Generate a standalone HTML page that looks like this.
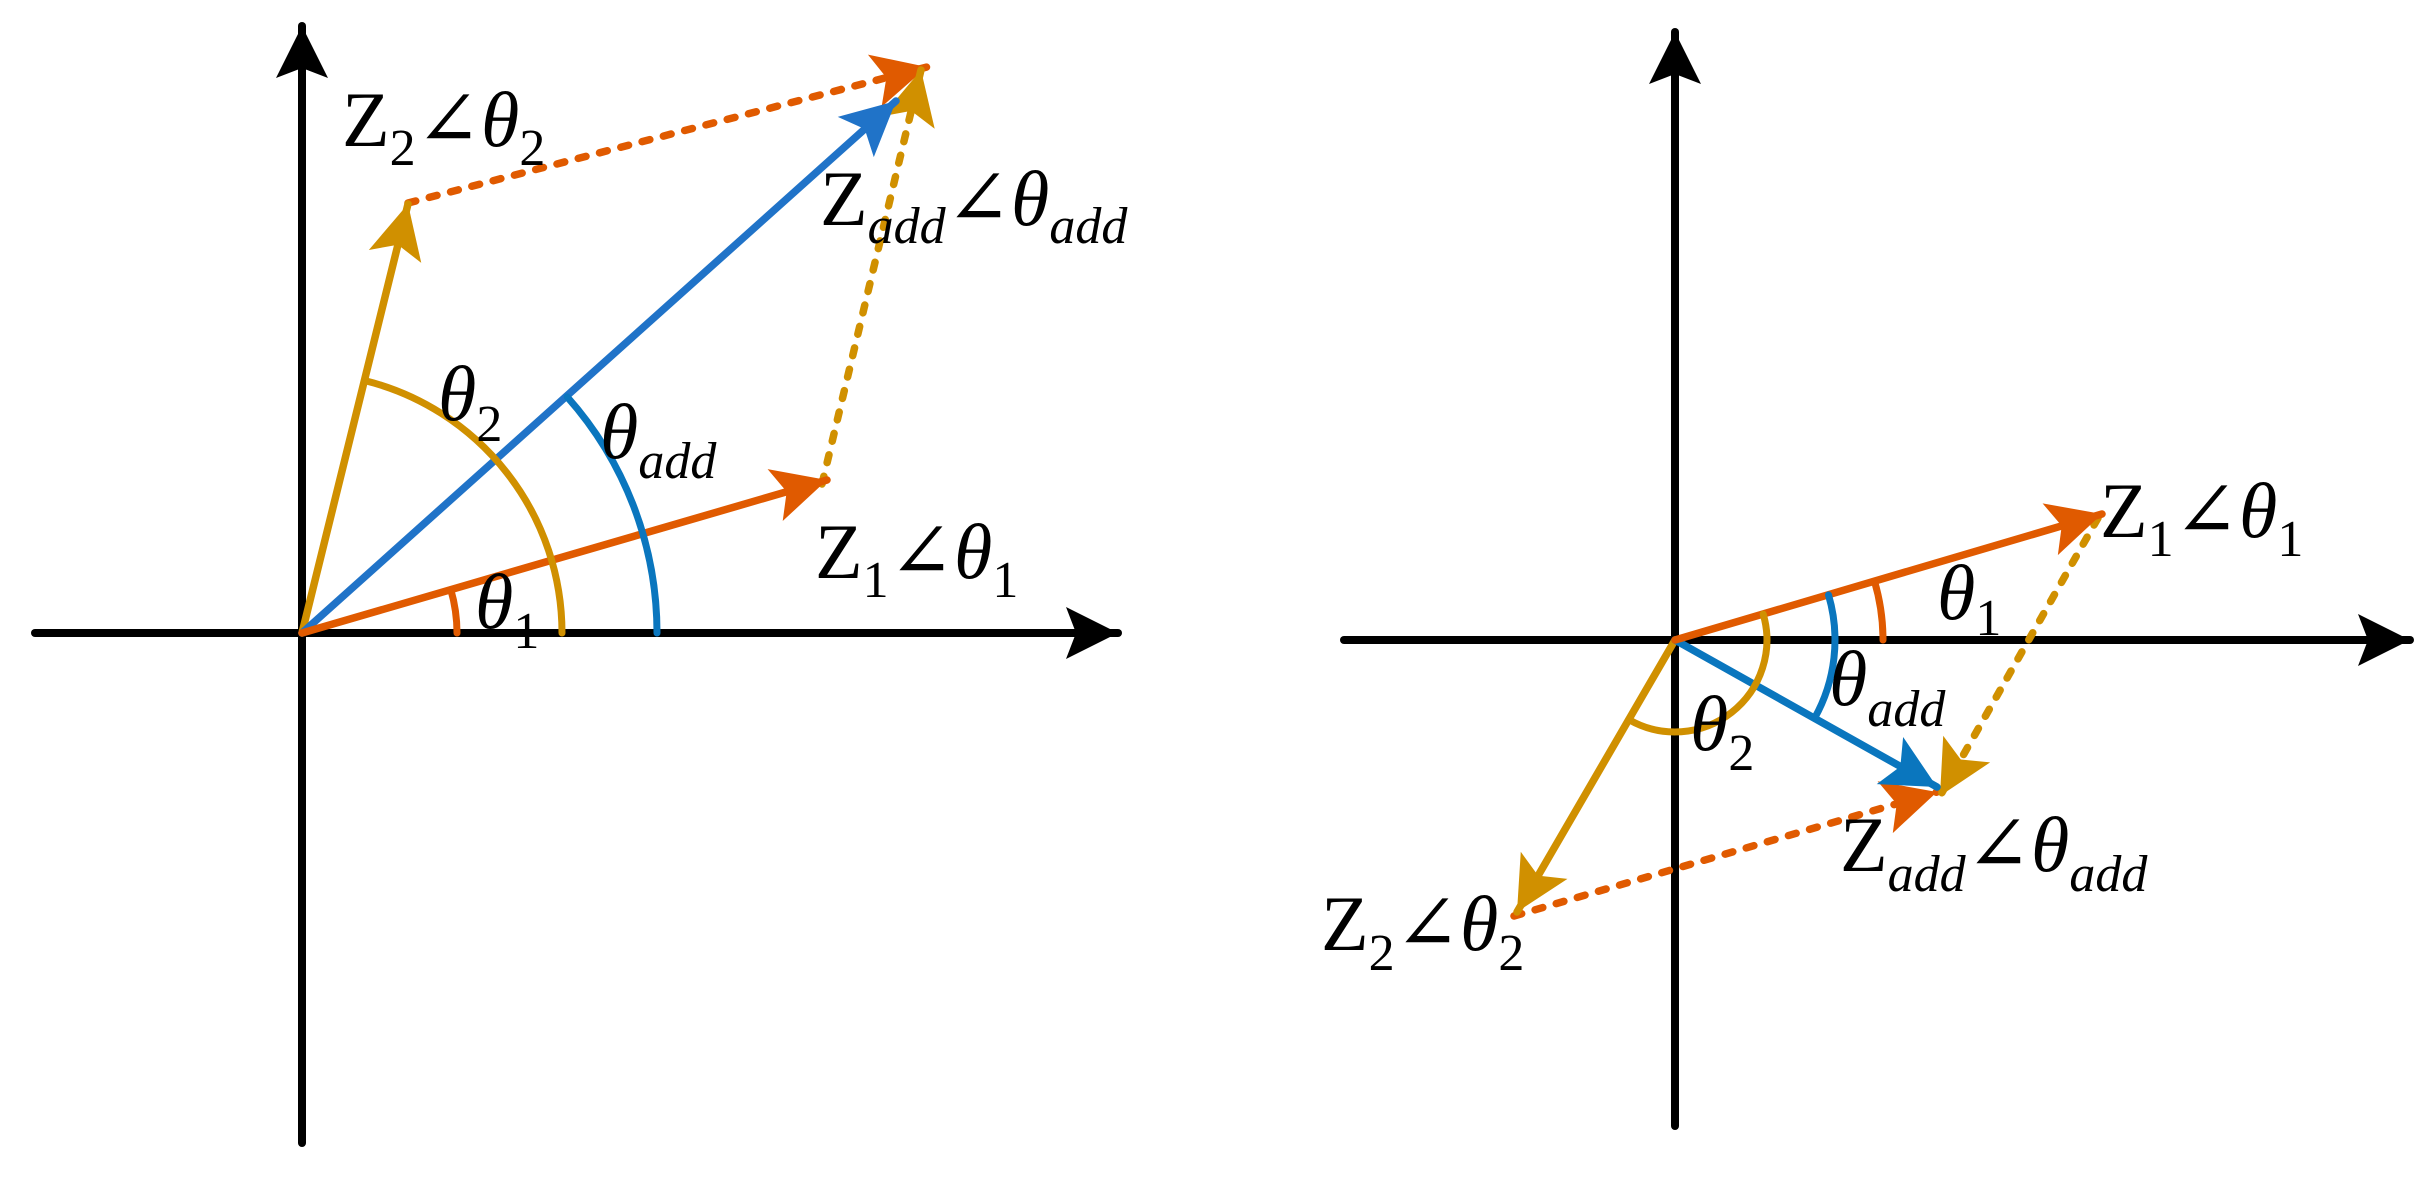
<!DOCTYPE html>
<html><head><meta charset="utf-8"><style>
html,body{margin:0;padding:0;background:#fff;}
svg{display:block}
text,tspan{font-family:"Liberation Serif","Times New Roman",Tinos,"DejaVu Serif","Noto Serif CJK SC",serif;fill:#000}
.i{font-style:italic}
</style></head><body>
<svg width="2429" height="1178" viewBox="0 0 2429 1178" xmlns="http://www.w3.org/2000/svg">
<defs>
<marker id="mk" markerUnits="userSpaceOnUse" markerWidth="60" markerHeight="60" refX="52" refY="26" orient="auto" overflow="visible"><path d="M52,26 L0,0 L10,26 L0,52 Z" fill="#000"/></marker>
<marker id="mo" markerUnits="userSpaceOnUse" markerWidth="60" markerHeight="60" refX="54" refY="27" orient="auto" overflow="visible"><path d="M54,27 L0,0 L12,27 L0,54 Z" fill="#E05A00"/></marker>
<marker id="mg" markerUnits="userSpaceOnUse" markerWidth="60" markerHeight="60" refX="54" refY="27" orient="auto" overflow="visible"><path d="M54,27 L0,0 L12,27 L0,54 Z" fill="#D09000"/></marker>
<marker id="mb" markerUnits="userSpaceOnUse" markerWidth="60" markerHeight="60" refX="54" refY="27" orient="auto" overflow="visible"><path d="M54,27 L0,0 L12,27 L0,54 Z" fill="#2073C8"/></marker>
<marker id="mb2" markerUnits="userSpaceOnUse" markerWidth="60" markerHeight="60" refX="54" refY="27" orient="auto" overflow="visible"><path d="M54,27 L0,0 L12,27 L0,54 Z" fill="#0A76BE"/></marker>
</defs>

<!-- LEFT PANEL -->
<g stroke-linecap="round" fill="none">
<line x1="35" y1="633" x2="1118" y2="633" stroke="#000" stroke-width="8" marker-end="url(#mk)"/>
<line x1="302" y1="1143" x2="302" y2="26" stroke="#000" stroke-width="8" marker-end="url(#mk)"/>
<line x1="408" y1="203" x2="927" y2="67" stroke="#E05A00" stroke-width="7.5" stroke-dasharray="8 14" marker-end="url(#mo)"/>
<line x1="822" y1="484" x2="921" y2="70" stroke="#D09000" stroke-width="7.5" stroke-dasharray="8 14" marker-end="url(#mg)"/>
<line x1="302" y1="633" x2="408" y2="204" stroke="#D09000" stroke-width="7.5" marker-end="url(#mg)"/>
<line x1="302" y1="633" x2="896" y2="101" stroke="#2073C8" stroke-width="7.5" marker-end="url(#mb)"/>
<line x1="302" y1="633" x2="827" y2="480" stroke="#E05A00" stroke-width="7.5" marker-end="url(#mo)"/>
<path d="M457,633 A155,155 0 0 0 450.8,589.6" stroke="#E05A00" stroke-width="7"/>
<path d="M562,633 A260,260 0 0 0 364.4,380.5" stroke="#D09000" stroke-width="7"/>
<path d="M657,633 A355,355 0 0 0 567.2,396.9" stroke="#0A76BE" stroke-width="7"/>
</g>
<text x="342" y="146" font-size="78">Z<tspan font-size="52" dy="19">2</tspan><tspan dy="-19">∠</tspan><tspan class="i">θ</tspan><tspan font-size="52" dy="19">2</tspan></text>
<text x="820" y="225" font-size="78">Z<tspan class="i" font-size="52" dy="18">add</tspan><tspan dy="-18">∠</tspan><tspan class="i">θ</tspan><tspan class="i" font-size="52" dy="18">add</tspan></text>
<text x="438" y="420" font-size="78"><tspan class="i">θ</tspan><tspan font-size="52" dy="21">2</tspan></text>
<text x="600" y="458" font-size="78"><tspan class="i">θ</tspan><tspan class="i" font-size="52" dy="20">add</tspan></text>
<text x="815" y="578" font-size="78">Z<tspan font-size="52" dy="19">1</tspan><tspan dy="-19">∠</tspan><tspan class="i">θ</tspan><tspan font-size="52" dy="19">1</tspan></text>
<text x="475" y="628" font-size="78"><tspan class="i">θ</tspan><tspan font-size="52" dy="20">1</tspan></text>

<!-- RIGHT PANEL -->
<g stroke-linecap="round" fill="none">
<line x1="1344" y1="640" x2="2410" y2="640" stroke="#000" stroke-width="8" marker-end="url(#mk)"/>
<line x1="1675" y1="1126" x2="1675" y2="32" stroke="#000" stroke-width="8" marker-end="url(#mk)"/>
<line x1="1514" y1="916" x2="1937" y2="792" stroke="#E05A00" stroke-width="7.5" stroke-dasharray="8 14" marker-end="url(#mo)"/>
<line x1="2098" y1="518" x2="1940" y2="796" stroke="#D09000" stroke-width="7.5" stroke-dasharray="8 14" marker-end="url(#mg)"/>
<line x1="1675" y1="640" x2="1517" y2="912" stroke="#D09000" stroke-width="7.5" marker-end="url(#mg)"/>
<line x1="1675" y1="640" x2="1937" y2="787" stroke="#0A76BE" stroke-width="7.5" marker-end="url(#mb2)"/>
<line x1="1675" y1="640" x2="2102" y2="514" stroke="#E05A00" stroke-width="7.5" marker-end="url(#mo)"/>
<path d="M1883,640 A208,208 0 0 0 1874.5,581.3" stroke="#E05A00" stroke-width="7"/>
<path d="M1828.5,594.9 A160,160 0 0 1 1814.5,718.3" stroke="#0A76BE" stroke-width="7"/>
<path d="M1763.2,614.1 A92,92 0 0 1 1628.7,719.5" stroke="#D09000" stroke-width="7"/>
</g>
<text x="2100" y="537" font-size="78">Z<tspan font-size="52" dy="19">1</tspan><tspan dy="-19">∠</tspan><tspan class="i">θ</tspan><tspan font-size="52" dy="19">1</tspan></text>
<text x="1937" y="619" font-size="78"><tspan class="i">θ</tspan><tspan font-size="52" dy="16">1</tspan></text>
<text x="1829" y="705" font-size="78"><tspan class="i">θ</tspan><tspan class="i" font-size="52" dy="21">add</tspan></text>
<text x="1690" y="750" font-size="78"><tspan class="i">θ</tspan><tspan font-size="52" dy="20">2</tspan></text>
<text x="1840" y="871" font-size="78">Z<tspan class="i" font-size="52" dy="20">add</tspan><tspan dy="-20">∠</tspan><tspan class="i">θ</tspan><tspan class="i" font-size="52" dy="20">add</tspan></text>
<text x="1321" y="950" font-size="78">Z<tspan font-size="52" dy="20">2</tspan><tspan dy="-20">∠</tspan><tspan class="i">θ</tspan><tspan font-size="52" dy="20">2</tspan></text>
</svg>
</body></html>
